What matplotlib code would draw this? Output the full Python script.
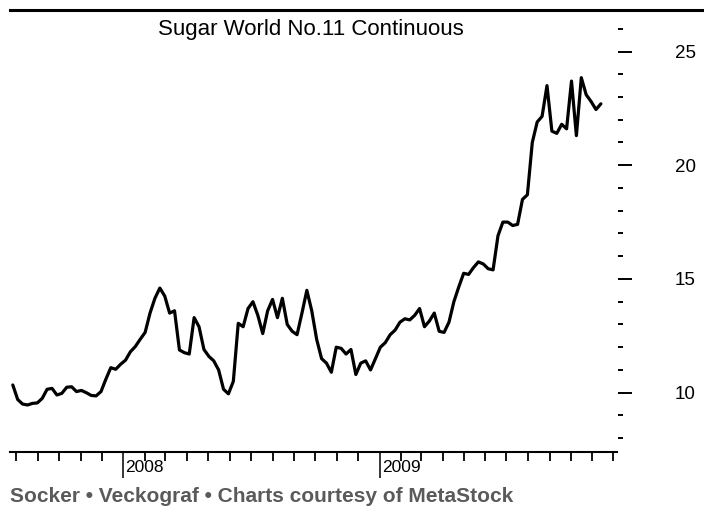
import matplotlib
matplotlib.use("Agg")
import matplotlib.pyplot as plt
import matplotlib.dates as mdates
from matplotlib.lines import Line2D
from matplotlib.ticker import MultipleLocator
import pandas as pd
import numpy as np

plt.rcParams['font.family'] = ['Liberation Sans', 'DejaVu Sans']

# ---- data (weekly closes, US cents/lb) ----
start_date = "2007-07-27"
prices = [
    10.34, 9.70, 9.50, 9.46, 9.53, 9.55, 9.75, 10.15, 10.19, 9.90,
    9.97, 10.24, 10.26, 10.05, 10.10, 10.00, 9.88, 9.86, 10.05, 10.60,
    11.10, 11.03, 11.25, 11.43, 11.80, 12.03, 12.35, 12.65, 13.50, 14.15,
    14.60, 14.25, 13.50, 13.60, 11.88, 11.76, 11.70, 13.30, 12.90, 11.90,
    11.60, 11.40, 11.00, 10.15, 9.95, 10.50, 13.05, 12.90, 13.70, 14.00,
    13.40, 12.60, 13.60, 14.10, 13.30, 14.15, 13.00, 12.70, 12.55, 13.50,
    14.50, 13.60, 12.35, 11.50, 11.30, 10.90, 12.00, 11.95, 11.70, 11.90,
    10.80, 11.30, 11.40, 11.00, 11.50, 12.00, 12.20, 12.55, 12.75, 13.10,
    13.25, 13.20, 13.40, 13.70, 12.90, 13.15, 13.50, 12.70, 12.65, 13.10,
    14.00, 14.65, 15.25, 15.20, 15.50, 15.75, 15.66, 15.45, 15.40, 16.90,
    17.50, 17.50, 17.35, 17.40, 18.50, 18.70, 21.00, 21.90, 22.15, 23.50,
    21.50, 21.40, 21.80, 21.60, 23.70, 21.30, 23.85, 23.10, 22.80, 22.45,
    22.70,
]
dates = pd.date_range(start_date, periods=len(prices), freq="7D")

title = "Sugar World No.11 Continuous"
footer = "Socker \u2022 Veckograf \u2022 Charts courtesy of MetaStock"
year_ticks = ["2008-01-01", "2009-01-01"]
year_labels = ["2008", "2009"]
y_major = [10, 15, 20, 25]

# ---- figure ----
W, H = 704, 515
fig = plt.figure(figsize=(W / 100, H / 100), dpi=100)
fig.patch.set_facecolor("white")

ax_left, ax_right, ax_top, ax_bottom = 10, 617, 10, 452
ax = fig.add_axes([ax_left / W, (H - ax_bottom) / H,
                   (ax_right - ax_left) / W, (ax_bottom - ax_top) / H])

ax.plot(dates, prices, color="black", lw=2.3, solid_joinstyle="round",
        solid_capstyle="round")

# y scale: 10 at y=392.7 px, 25 at y=51.5 px
ppu = (392.7 - 51.5) / 15.0
ax.set_ylim(10 - (ax_bottom - 392.7) / ppu, 25 + (51.5 - ax_top) / ppu)

ax.set_xlim(dates[0] - pd.Timedelta(days=4), dates[-1] + pd.Timedelta(days=23))

for s in ["left", "top", "right"]:
    ax.spines[s].set_visible(False)
ax.spines["bottom"].set_linewidth(1.5)
ax.spines["right"].set_position(("outward", 1))

# y axis on the right
ax.yaxis.tick_right()
ax.set_yticks(y_major)
ax.set_yticklabels([str(v) for v in y_major])
ax.yaxis.set_minor_locator(MultipleLocator(1))
ax.tick_params(axis="y", which="major", direction="out", length=9.8,
               width=1.4, pad=31, labelsize=13.5, colors="black")
ax.tick_params(axis="y", which="minor", direction="out", length=3.8,
               width=1.4)

# x axis: month ticks, long year ticks
ax.set_xticks(pd.to_datetime(year_ticks))
ax.xaxis.set_minor_locator(mdates.MonthLocator())
ax.tick_params(axis="x", which="major", direction="out", length=18.7,
               width=1.1, labelbottom=False)
ax.tick_params(axis="x", which="minor", direction="out", length=6.3,
               width=1.3)

for d, lab in zip(pd.to_datetime(year_ticks), year_labels):
    ax.annotate(lab, xy=(d, 0), xycoords=("data", "axes fraction"),
                xytext=(1.5, -11.5), textcoords="offset points",
                ha="left", va="center", fontsize=12.5, color="black")

# top rule
fig.add_artist(Line2D([10 / W, 1.0], [(H - 10) / H] * 2, color="black",
                      lw=2.2, transform=fig.transFigure))

# title and footer
fig.text(311 / W, (H - 30) / H, title, ha="center", va="center",
         fontsize=16, color="black")
fig.text(10 / W, (H - 497) / H, footer, ha="left", va="center",
         fontsize=15, fontweight="bold", color="#5a5a5a")

fig.savefig("out.png", dpi=100)
